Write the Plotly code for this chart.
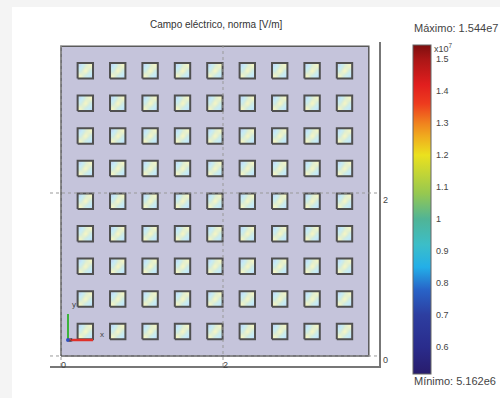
import plotly.graph_objects as go

W, H = 500, 398

# ---- data ----
field_min = 5.162e6
field_max = 1.544e7
domain_size = 3.8
square_centers_x = [0.3, 0.7, 1.1, 1.5, 1.9, 2.3, 2.7, 3.1, 3.5]
square_centers_y = [0.3, 0.7, 1.1, 1.5, 1.9, 2.3, 2.7, 3.1, 3.5]
square_side = 0.19
background_field = 5.5e6
# field pattern inside each square (rows bottom -> top), in V/m
square_pattern = [
    [1.16e7, 0.97e7, 0.82e7],
    [0.97e7, 1.20e7, 0.97e7],
    [0.81e7, 1.05e7, 1.16e7],
]
cbar_tickvals = [0.6e7, 0.7e7, 0.8e7, 0.9e7, 1.0e7, 1.1e7, 1.2e7, 1.3e7, 1.4e7, 1.5e7]
cbar_ticktext = ["0.6", "0.7", "0.8", "0.9", "1", "1.1", "1.2", "1.3", "1.4", "1.5"]
axis_ticks = [0, 2]

# COMSOL-like rainbow colour scale
def frac(v):
    return (v - field_min) / (field_max - field_min)

rainbow_stops = [
    (0.5162e7, (40, 28, 108)),
    (0.60e7, (42, 44, 140)),
    (0.70e7, (45, 62, 160)),
    (0.78e7, (40, 100, 200)),
    (0.85e7, (35, 175, 232)),
    (0.92e7, (60, 190, 200)),
    (1.00e7, (80, 180, 150)),
    (1.08e7, (150, 200, 80)),
    (1.20e7, (235, 225, 30)),
    (1.26e7, (240, 170, 30)),
    (1.30e7, (240, 130, 30)),
    (1.36e7, (238, 60, 30)),
    (1.42e7, (225, 30, 30)),
    (1.50e7, (170, 22, 22)),
    (1.544e7, (125, 14, 14)),
]
rainbow = [[frac(v), "rgb(%d,%d,%d)" % c] for v, c in rainbow_stops]
rainbow[0][0] = 0.0
rainbow[-1][0] = 1.0
alpha = 0.27
pale = [[f, "rgb(%d,%d,%d)" % tuple(round(alpha * ch + (1 - alpha) * 255) for ch in c)]
        for (f, _), (_, c) in zip(rainbow, rainbow_stops)]

def px(x):
    return x / W

def py(y):
    return 1 - y / H

CB_TOP, CB_BOT, CB_LEFT, CB_RIGHT = 45, 374, 413, 431

fig = go.Figure()

# background field
fig.add_trace(go.Heatmap(
    x=[0, domain_size], y=[0, domain_size], z=[[background_field]],
    colorscale=pale, zmin=field_min, zmax=field_max, showscale=False,
    hoverinfo="skip"))

# field inside squares
for cy in square_centers_y:
    for cx in square_centers_x:
        s = square_side
        xe = [cx - s / 2, cx - s / 6, cx + s / 6, cx + s / 2]
        ye = [cy - s / 2, cy - s / 6, cy + s / 6, cy + s / 2]
        fig.add_trace(go.Heatmap(
            x=xe, y=ye, z=square_pattern, zsmooth="best",
            colorscale=pale, zmin=field_min, zmax=field_max, showscale=False,
            hoverinfo="skip"))

# square outlines
bx, by = [], []
for cy in square_centers_y:
    for cx in square_centers_x:
        h = square_side / 2
        bx += [cx - h, cx + h, cx + h, cx - h, cx - h, None]
        by += [cy - h, cy - h, cy + h, cy + h, cy - h, None]
fig.add_trace(go.Scatter(x=bx, y=by, mode="lines",
                         line=dict(color="#505050", width=2), hoverinfo="skip"))

# domain outline
fig.add_trace(go.Scatter(
    x=[0, domain_size, domain_size, 0, 0], y=[0, 0, domain_size, domain_size, 0],
    mode="lines", line=dict(color="#5a5a5a", width=1.5), hoverinfo="skip"))

# colorbar carrier
fig.add_trace(go.Scatter(
    x=[1.9, 1.9], y=[1.9, 1.9], mode="markers",
    marker=dict(color=[field_min, field_max], colorscale=rainbow,
                cmin=field_min, cmax=field_max, opacity=0, size=1,
                showscale=True,
                colorbar=dict(
                    x=px(CB_LEFT), xanchor="left", thickness=CB_RIGHT - CB_LEFT,
                    thicknessmode="pixels",
                    len=(CB_BOT - CB_TOP) / H, lenmode="fraction",
                    y=py((CB_TOP + CB_BOT) / 2), yanchor="middle", xpad=0, ypad=0,
                    outlinewidth=1, outlinecolor="#666",
                    tickvals=cbar_tickvals, ticks="", showticklabels=False)),
    hoverinfo="skip"))

xr = [-0.136, 3.926]
yr = [-0.123, 3.853]

small = dict(family="Liberation Sans", size=9, color="#444")

shapes = [
    dict(type="rect", xref="paper", yref="paper", x0=px(12), x1=1, y0=0, y1=py(7),
         fillcolor="white", line=dict(width=0), layer="below"),
]
annotations = []
# colour bar tick marks on both sides + labels
for v, lab in zip(cbar_tickvals, cbar_ticktext):
    yv = py(CB_BOT) + frac(v) * (py(CB_TOP) - py(CB_BOT))
    shapes.append(dict(type="line", xref="paper", yref="paper", x0=px(CB_LEFT), x1=px(CB_LEFT + 3),
                       y0=yv, y1=yv, line=dict(color="#222", width=1), layer="above"))
    shapes.append(dict(type="line", xref="paper", yref="paper", x0=px(CB_RIGHT - 3), x1=px(CB_RIGHT),
                       y0=yv, y1=yv, line=dict(color="#222", width=1), layer="above"))
    annotations.append(dict(text=lab, x=px(CB_RIGHT + 3), y=yv, xref="paper", yref="paper",
                            xanchor="left", yanchor="middle", showarrow=False, font=small))
# dotted grid lines
for t in axis_ticks:
    shapes.append(dict(type="line", xref="x", yref="y", x0=t, x1=t, y0=yr[0], y1=yr[1],
                       line=dict(color="#999", width=1, dash="dot"), layer="above"))
    shapes.append(dict(type="line", xref="x", yref="y", x0=xr[0], x1=xr[1], y0=t, y1=t,
                       line=dict(color="#999", width=1, dash="dot"), layer="above"))
# axis triad
shapes += [
    dict(type="line", xref="paper", yref="paper", x0=px(68), x1=px(68), y0=py(341), y1=py(314),
         line=dict(color="#3bb33b", width=2), layer="above"),
    dict(type="line", xref="paper", yref="paper", x0=px(68), x1=px(93), y0=py(340), y1=py(340),
         line=dict(color="#e0302a", width=2.5), layer="above"),
    dict(type="circle", xref="paper", yref="paper", x0=px(66), x1=px(70), y0=py(342), y1=py(338),
         fillcolor="#3050c0", line=dict(width=0), layer="above"),
]

annotations += [
    dict(text="Campo eléctrico, norma [V/m]", x=px(216), y=py(17), xref="paper", yref="paper",
         showarrow=False, font=dict(family="Liberation Sans", size=10, color="#333")),
    dict(text="Máximo: 1.544e7", x=px(412), y=py(20), xref="paper", yref="paper",
         xanchor="left", showarrow=False, font=dict(family="Liberation Sans", size=11, color="#444")),
    dict(text="Mínimo: 5.162e6", x=px(412), y=py(389), xref="paper", yref="paper",
         xanchor="left", showarrow=False, font=dict(family="Liberation Sans", size=11, color="#444")),
    dict(text="x10<sup>7</sup>", x=px(432), y=py(40), xref="paper", yref="paper",
         xanchor="left", showarrow=False, font=small),
    dict(text="y", x=px(70), y=py(311), xref="paper", yref="paper", showarrow=False,
         font=dict(family="Liberation Sans", size=8, color="#444")),
    dict(text="x", x=px(98), y=py(341), xref="paper", yref="paper", showarrow=False,
         font=dict(family="Liberation Sans", size=8, color="#444")),
    dict(text="z", x=px(67), y=py(345), xref="paper", yref="paper", showarrow=False,
         font=dict(family="Liberation Sans", size=7, color="#444")),
]
for t in axis_ticks:
    annotations.append(dict(text=str(t), x=t, y=py(372), xref="x", yref="paper",
                            xshift=2, showarrow=False, font=small))
    annotations.append(dict(text=str(t), x=px(381), y=t, xref="paper", yref="y",
                            xanchor="left", yshift=-7 if t else -4, showarrow=False, font=small))

fig.update_layout(
    width=W, height=H, margin=dict(l=0, r=0, t=0, b=0),
    paper_bgcolor="#f4f4f4", plot_bgcolor="white",
    showlegend=False, shapes=shapes, annotations=annotations,
    xaxis=dict(range=xr, domain=[px(50), px(379)], showgrid=False, zeroline=False,
               showline=True, linecolor="#777", linewidth=1.5, showticklabels=False,
               ticks="", fixedrange=True),
    yaxis=dict(range=yr, domain=[py(366), py(42)], side="right", showgrid=False,
               zeroline=False, showline=True, linecolor="#777", linewidth=1.5,
               showticklabels=False, ticks="", fixedrange=True),
)

fig.write_html("out.html")
